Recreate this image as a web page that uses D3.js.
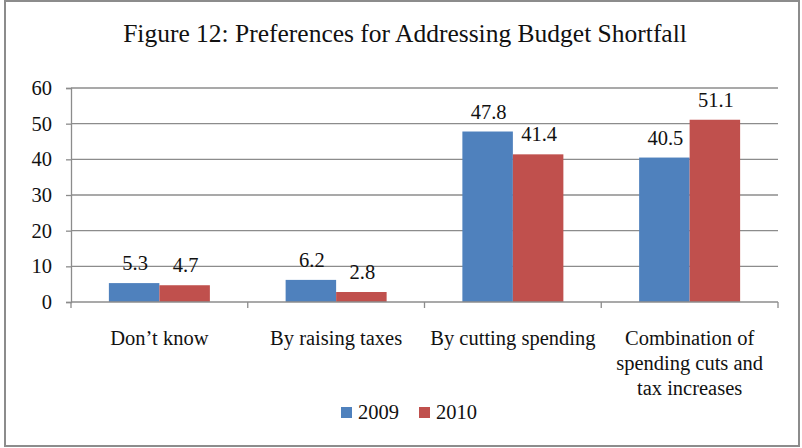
<!DOCTYPE html>
<html>
<head>
<meta charset="utf-8">
<script src="https://cdn.jsdelivr.net/npm/d3@7"></script>
<style>
  html, body { margin: 0; padding: 0; background: #fff; }
  svg text { font-family: "Liberation Serif", "Times New Roman", serif; fill: #111; }
</style>
</head>
<body>
<svg id="chart" width="802" height="448"></svg>
<script>
// Survey responses (percent) by year
const categories = [["Don\u2019t know"], ["By raising taxes"], ["By cutting spending"],
                    ["Combination of", "spending cuts and", "tax increases"]];
const years = ["2009", "2010"];
const values2009 = [5.3, 6.2, 47.8, 40.5];
const values2010 = [4.7, 2.8, 41.4, 51.1];
const yTicks = [0, 10, 20, 30, 40, 50, 60];
const colors = ["#4F81BD", "#C0504D"];
const titleText = "Figure 12: Preferences for Addressing Budget Shortfall";

const svg = d3.select("#chart");
const margin = { left: 71, right: 24, top: 88, bottom: 146 };
const W = 802, H = 448;
const plotW = W - margin.left - margin.right;
const plotH = H - margin.top - margin.bottom;
const fs = 20.5;

// outer frame
svg.append("rect").attr("x", 5).attr("y", 1).attr("width", 794).attr("height", 445)
  .attr("fill", "#fff").attr("stroke", "#8c8c8c").attr("stroke-width", 2);

svg.append("text").attr("x", 405).attr("y", 42).attr("text-anchor", "middle")
  .attr("font-size", 25.5).text(titleText);

const g = svg.append("g").attr("transform", `translate(${margin.left},${margin.top})`);

const x0 = d3.scaleBand().domain(d3.range(categories.length)).range([0, plotW]);
// two bars per group with a 150% gap: bar width = band / 3.5
const x1 = d3.scaleBand().domain(years)
  .range([x0.bandwidth() * 0.75 / 3.5, x0.bandwidth() * 2.75 / 3.5]).padding(0);
const y = d3.scaleLinear().domain([0, 60]).range([plotH, 0]);

// gridlines
g.append("g").selectAll("line").data(yTicks.slice(1)).join("line")
  .attr("x1", 0).attr("x2", plotW).attr("y1", d => y(d)).attr("y2", d => y(d))
  .attr("stroke", "#8c8c8c").attr("stroke-width", 1.3);

// y axis
const yAxis = g.append("g").call(d3.axisLeft(y).tickValues(yTicks).tickSize(5).tickPadding(14));
yAxis.select(".domain").attr("stroke", "#8c8c8c").attr("stroke-width", 1.3);
yAxis.selectAll(".tick line").attr("stroke", "#8c8c8c").attr("stroke-width", 1.3);
yAxis.selectAll(".tick text").attr("font-size", fs).attr("font-family", "Liberation Serif").attr("fill", "#111");

// bars with value labels
const series = [values2009, values2010];
const groups = g.selectAll(".grp").data(categories).join("g").attr("class", "grp")
  .attr("transform", (d, i) => `translate(${x0(i)},0)`);
groups.each(function (c, i) {
  const sel = d3.select(this);
  years.forEach((yr, k) => {
    const v = series[k][i];
    sel.append("rect").attr("x", x1(yr)).attr("y", y(v))
      .attr("width", x1.bandwidth()).attr("height", y(0) - y(v)).attr("fill", colors[k]);
    sel.append("text").attr("x", x1(yr) + x1.bandwidth() / 2 + 1).attr("y", y(v) - 13)
      .attr("text-anchor", "middle").attr("font-size", fs).text(v.toFixed(1));
  });
});

// x axis
const xAxisG = g.append("g").attr("transform", `translate(0,${plotH})`);
xAxisG.append("line").attr("x1", 0).attr("x2", plotW).attr("stroke", "#8c8c8c").attr("stroke-width", 1.3);
xAxisG.selectAll(".xt").data(d3.range(categories.length + 1)).join("line")
  .attr("x1", d => d * x0.step()).attr("x2", d => d * x0.step())
  .attr("y1", 0).attr("y2", 6).attr("stroke", "#8c8c8c").attr("stroke-width", 1.3);
xAxisG.selectAll(".xl").data(categories).join("text")
  .attr("text-anchor", "middle").attr("font-size", fs)
  .attr("transform", (d, i) => `translate(${x0(i) + x0.bandwidth() / 2},43)`)
  .each(function (lines) {
    d3.select(this).selectAll("tspan").data(lines).join("tspan")
      .attr("x", 0).attr("dy", (d, j) => j === 0 ? 0 : 25).text(d => d);
  });

// legend
const legend = svg.append("g").attr("transform", "translate(341,407)");
years.forEach((yr, k) => {
  const lx = k * 78;
  legend.append("rect").attr("x", lx).attr("y", 0).attr("width", 11).attr("height", 11).attr("fill", colors[k]);
  legend.append("text").attr("x", lx + 17).attr("y", 12).attr("font-size", fs).text(yr);
});
</script>
</body>
</html>
